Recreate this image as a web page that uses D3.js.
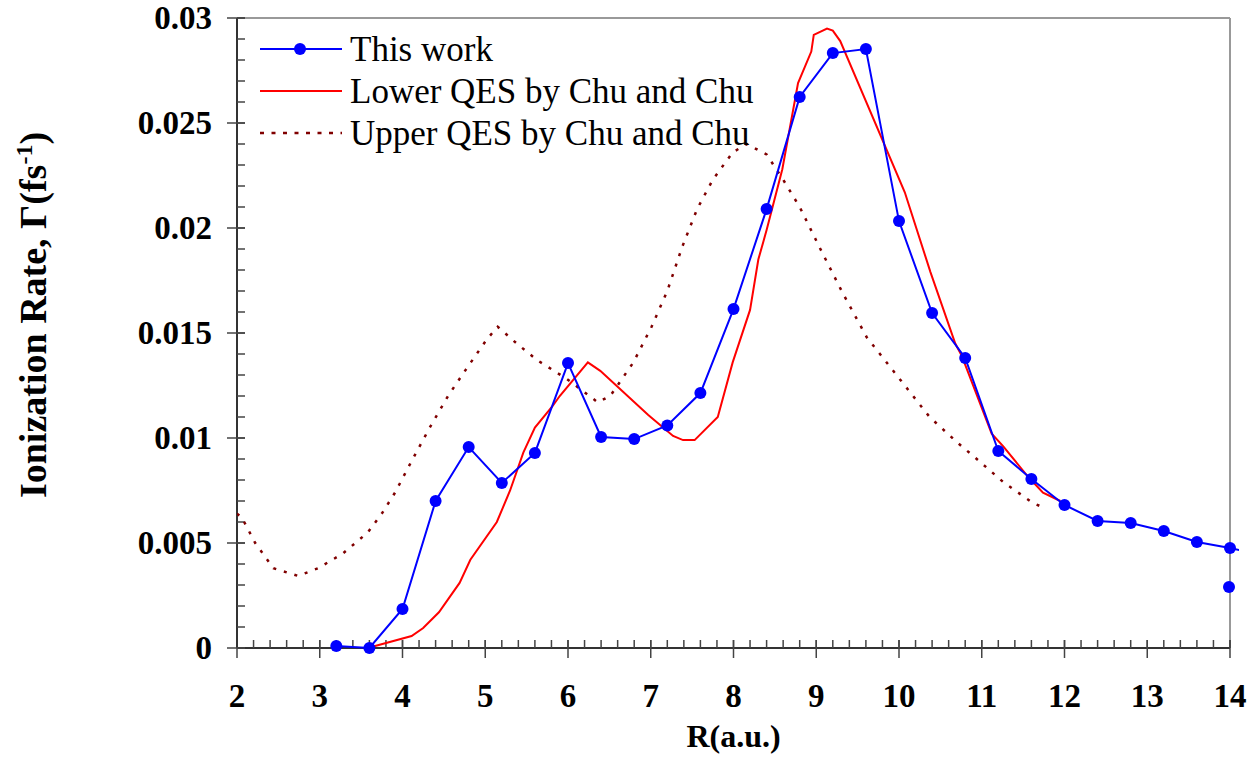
<!DOCTYPE html>
<html>
<head>
  <title>Ionization rate</title>
  <script src="https://d3js.org/d3.v7.min.js"></script>
  <style>
    body { margin: 0; background: #fff; }
    text { font-family: "Liberation Serif", "Times New Roman", serif; }
  </style>
</head>
<body>
<script type="text/javascript">

  // This work (blue, markers); last R is beyond the axis and gets clipped
  var thisR = [3.2, 3.6, 4.0, 4.4, 4.8, 5.2, 5.6, 6.0, 6.4, 6.8, 7.2, 7.6, 8.0, 8.4, 8.8,
               9.2, 9.6, 10.0, 10.4, 10.8, 11.2, 11.6, 12.0, 12.4, 12.8, 13.2, 13.6, 14.0, 14.4];
  var thisG = [0.0001, 0.0000, 0.00186, 0.0070, 0.00957, 0.00786, 0.00929, 0.01357, 0.01005,
               0.00995, 0.0106, 0.01214, 0.01614, 0.0209, 0.02624, 0.02833, 0.02852, 0.02033,
               0.01595, 0.01381, 0.00938, 0.00805, 0.00681, 0.00605, 0.00595, 0.00557, 0.00505,
               0.00476, 0.0044];
  // lone point at the right edge
  var loneR = [14.0];
  var loneG = [0.0029];

  // Lower QES by Chu and Chu (red)
  var lowerR = [3.58, 4.11, 4.25, 4.44, 4.69, 4.82, 5.14, 5.30, 5.46, 5.60, 5.81, 5.90, 6.24, 6.39,
                6.97, 7.27, 7.39, 7.53, 7.81, 7.99, 8.20, 8.30, 8.40, 8.59, 8.78, 8.94, 8.97, 9.13,
                9.20, 9.29, 10.07, 10.38, 10.68, 10.76, 11.12, 11.26, 11.55, 11.74, 11.95];
  var lowerG = [0, 0.00057, 0.00095, 0.0017, 0.0031, 0.0042, 0.0060, 0.0075, 0.0093, 0.0105, 0.0115,
                0.0120, 0.0136, 0.0132, 0.0111, 0.0101, 0.0099, 0.0099, 0.0110, 0.0136, 0.0161,
                0.0185, 0.0199, 0.0228, 0.0269, 0.0284, 0.0292, 0.0295, 0.0294, 0.0289, 0.0217,
                0.0179, 0.0145, 0.0139, 0.0102, 0.0096, 0.0082, 0.0074, 0.0070];

  // Upper QES by Chu and Chu (dotted dark red)
  var upperR = [2.0, 2.06, 2.22, 2.44, 2.74, 2.98, 3.28, 3.58, 3.75, 3.91, 4.11, 4.33, 4.55, 4.79,
                5.02, 5.15, 5.38, 5.63, 5.99, 6.36, 6.51, 6.79, 7.01, 7.20, 7.38, 7.56, 7.75, 7.99,
                8.16, 8.40, 8.60, 8.80, 9.05, 9.32, 9.61, 10.01, 10.37, 10.70, 10.94, 11.26, 11.62, 11.74];
  var upperG = [0.0064, 0.0062, 0.0050, 0.0038, 0.00343, 0.0038, 0.0045, 0.0055, 0.0064, 0.0074,
                0.0089, 0.0105, 0.0120, 0.0134, 0.0147, 0.0153, 0.0145, 0.0137, 0.0128, 0.0117,
                0.0120, 0.0136, 0.0153, 0.0170, 0.0191, 0.0209, 0.0223, 0.0236, 0.0240, 0.0235,
                0.0223, 0.0210, 0.0190, 0.0169, 0.0148, 0.0128, 0.0110, 0.0098, 0.0090, 0.0079,
                0.0069, 0.0067];

  var xTicks = [2, 3, 4, 5, 6, 7, 8, 9, 10, 11, 12, 13, 14];
  var yTicks = [0, 0.005, 0.01, 0.015, 0.02, 0.025, 0.03];
  var yTickLabels = ["0", "0.005", "0.01", "0.015", "0.02", "0.025", "0.03"];

  var legendNames = ["This work", "Lower QES by Chu and Chu", "Upper QES by Chu and Chu"];

  var w = 1257, h = 757;
  var pLeft = 237, pRight = 1230, pTop = 18, pBottom = 648;

  var svg = d3.select("body").append("svg")
      .attr("width", w)
      .attr("height", h);

  var x = d3.scaleLinear().domain([2, 14]).range([pLeft, pRight]);
  var y = d3.scaleLinear().domain([0, 0.03]).range([pBottom, pTop]);

  function pts(xs, ys) {
    return xs.map(function(d, i){ return [d, ys[i]]; });
  }

  // frame: grey top and right
  svg.append("line").attr("x1", pLeft).attr("x2", pRight).attr("y1", pTop).attr("y2", pTop)
     .attr("stroke", "#999").attr("stroke-width", 2);
  svg.append("line").attr("x1", pRight).attr("x2", pRight).attr("y1", pTop).attr("y2", pBottom)
     .attr("stroke", "#999").attr("stroke-width", 2);

  // x axis
  var xAxis = svg.append("g").attr("transform", "translate(0," + pBottom + ")");
  xAxis.append("line").attr("x1", pLeft).attr("x2", pRight)
       .attr("stroke", "#333").attr("stroke-width", 2);
  xAxis.selectAll(".minor").data(d3.range(2, 14.001, 0.2)).enter().append("line")
       .attr("x1", function(d){ return x(d); }).attr("x2", function(d){ return x(d); })
       .attr("y1", 0).attr("y2", -8).attr("stroke", "#444").attr("stroke-width", 1.5);
  xAxis.selectAll(".major").data(xTicks).enter().append("line")
       .attr("x1", function(d){ return x(d); }).attr("x2", function(d){ return x(d); })
       .attr("y1", -8).attr("y2", 10).attr("stroke", "#444").attr("stroke-width", 1.5);
  xAxis.selectAll("text").data(xTicks).enter().append("text")
       .attr("x", function(d){ return x(d); }).attr("y", 59)
       .attr("text-anchor", "middle").attr("font-size", 33).attr("font-weight", "bold")
       .text(function(d){ return d; });

  // y axis
  var yAxis = svg.append("g").attr("transform", "translate(" + pLeft + ",0)");
  yAxis.append("line").attr("y1", pTop).attr("y2", pBottom)
       .attr("stroke", "#333").attr("stroke-width", 2);
  yAxis.selectAll(".minor").data(d3.range(0, 0.03001, 0.001)).enter().append("line")
       .attr("y1", function(d){ return y(d); }).attr("y2", function(d){ return y(d); })
       .attr("x1", 0).attr("x2", 8).attr("stroke", "#444").attr("stroke-width", 1.5);
  yAxis.selectAll(".major").data(yTicks).enter().append("line")
       .attr("y1", function(d){ return y(d); }).attr("y2", function(d){ return y(d); })
       .attr("x1", -10).attr("x2", 8).attr("stroke", "#444").attr("stroke-width", 1.5);
  yAxis.selectAll("text").data(yTicks).enter().append("text")
       .attr("x", -25).attr("y", function(d){ return y(d) + 11; })
       .attr("text-anchor", "end").attr("font-size", 33).attr("font-weight", "bold")
       .text(function(d, i){ return yTickLabels[i]; });

  // axis titles
  svg.append("text").attr("x", (pLeft + pRight) / 2).attr("y", 747)
     .attr("text-anchor", "middle").attr("font-size", 32).attr("font-weight", "bold")
     .text("R(a.u.)");
  var yt = svg.append("text")
     .attr("transform", "translate(46,315) rotate(-90)")
     .attr("text-anchor", "middle").attr("font-size", 38).attr("font-weight", "bold");
  yt.append("tspan").text("Ionization Rate, \u0393(fs");
  yt.append("tspan").attr("dy", -14).attr("font-size", 24).text("-1");
  yt.append("tspan").attr("dy", 14).text(")");

  // clip
  svg.append("clipPath").attr("id", "plot").append("rect")
     .attr("x", pLeft).attr("y", 0).attr("width", pRight - pLeft + 9).attr("height", pBottom + 4);

  var line = d3.line().x(function(d){ return x(d[0]); }).y(function(d){ return y(d[1]); });
  var plot = svg.append("g").attr("clip-path", "url(#plot)");

  plot.append("path").datum(pts(upperR, upperG)).attr("d", line)
      .attr("fill", "none").attr("stroke", "#800000").attr("stroke-width", 2.5)
      .attr("stroke-dasharray", "3,8");
  plot.append("path").datum(pts(lowerR, lowerG)).attr("d", line)
      .attr("fill", "none").attr("stroke", "#ff0000").attr("stroke-width", 2);
  plot.append("path").datum(pts(thisR, thisG)).attr("d", line)
      .attr("fill", "none").attr("stroke", "#0000ff").attr("stroke-width", 2);

  svg.selectAll(".dot").data(pts(thisR, thisG).filter(function(d){ return d[0] <= 14; }))
     .enter().append("circle")
     .attr("cx", function(d){ return x(d[0]); }).attr("cy", function(d){ return y(d[1]); })
     .attr("r", 6).attr("fill", "#0000ff");
  svg.selectAll(".lone").data(pts(loneR, loneG)).enter().append("circle")
     .attr("cx", function(d){ return x(d[0]) - 1; }).attr("cy", function(d){ return y(d[1]); })
     .attr("r", 6).attr("fill", "#0000ff");

  // legend
  var legend = svg.append("g");
  var styles = [
    {stroke: "#0000ff", dash: null, width: 2, dot: true},
    {stroke: "#ff0000", dash: null, width: 2, dot: false},
    {stroke: "#800000", dash: "4,7.5", width: 2.5, dot: false}
  ];
  legendNames.forEach(function(name, i){
    var ly = 49 + i * 42;
    legend.append("line").attr("x1", 260).attr("x2", 342).attr("y1", ly).attr("y2", ly)
          .attr("stroke", styles[i].stroke).attr("stroke-width", styles[i].width)
          .attr("stroke-dasharray", styles[i].dash);
    if (styles[i].dot)
      legend.append("circle").attr("cx", 300).attr("cy", ly).attr("r", 6).attr("fill", "#0000ff");
    legend.append("text").attr("x", 350).attr("y", ly + 12).attr("font-size", 35)
          .text(name);
  });

</script>
</body>
</html>
